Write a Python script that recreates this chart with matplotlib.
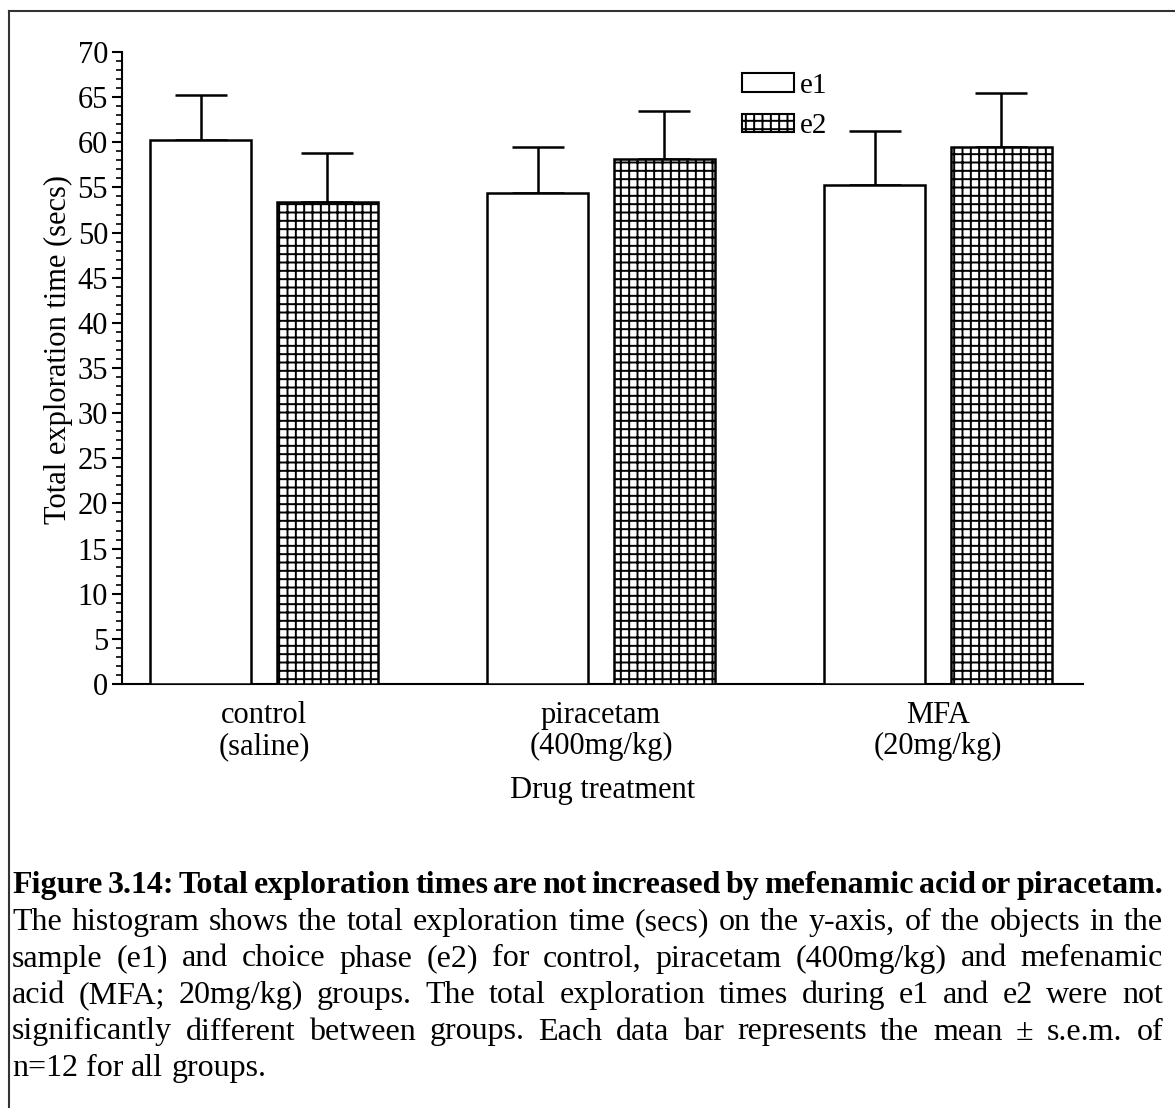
import matplotlib
matplotlib.use('Agg')
import matplotlib.pyplot as plt
from matplotlib.patches import Patch
from matplotlib.ticker import MultipleLocator
import numpy as np

# Data
groups = ['control\n(saline)', 'piracetam\n(400mg/kg)', 'MFA\n(20mg/kg)']
e1_mean = [60.3, 54.4, 55.3]
e1_sem = [4.9, 5.1, 6.0]
e2_mean = [53.4, 58.1, 59.5]
e2_sem = [5.4, 5.4, 6.0]

caption_title = ('Figure 3.14: Total exploration times are not increased by '
                 'mefenamic acid or piracetam.')
caption_lines = [
    'The histogram shows the total exploration time (secs) on the y-axis, of the objects in the',
    'sample (e1) and choice phase (e2) for control, piracetam (400mg/kg) and mefenamic',
    'acid (MFA; 20mg/kg) groups. The total exploration times during e1 and e2 were not',
    'significantly different between groups. Each data bar represents the mean \u00b1 s.e.m. of',
    'n=12 for all groups.',
]

plt.rcParams['font.family'] = 'Liberation Serif'
plt.rcParams['hatch.linewidth'] = 1.4

W, H = 1175, 1108
fig = plt.figure(figsize=(W / 100, H / 100), dpi=100)
ax = fig.add_axes([122 / W, 1 - 684 / H, (1083 - 122) / W, (684 - 52) / H])

x = np.arange(len(groups))
bw = 0.30
off = 0.188
lw = 1.8

ax.bar(x - off, e1_mean, bw, color='white', edgecolor='black', linewidth=lw, zorder=3)
ax.bar(x + off, e2_mean, bw, color='white', edgecolor='black', linewidth=lw,
       hatch='++', zorder=3)

for xs, m, s in [(x - off, e1_mean, e1_sem), (x + off, e2_mean, e2_sem)]:
    ax.errorbar(xs, m, yerr=[np.zeros(len(s)), s], fmt='none', ecolor='black',
                elinewidth=lw, capsize=18.5, capthick=lw, zorder=2)

ax.set_xlim(-0.421, 2.430)
ax.set_ylim(0, 70)
ax.yaxis.set_major_locator(MultipleLocator(5))
ax.yaxis.set_minor_locator(MultipleLocator(1))
ax.tick_params(axis='y', which='major', length=7, width=1.5, labelsize=22, pad=3)
ax.tick_params(axis='y', which='minor', length=4, width=1.2)
ax.set_xticks(x)
ax.set_xticklabels(groups, fontsize=22, linespacing=1.1)
ax.tick_params(axis='x', length=0, pad=12)

for side in ['top', 'right']:
    ax.spines[side].set_visible(False)
for side in ['left', 'bottom']:
    ax.spines[side].set_linewidth(1.5)

ax.set_ylabel('Total exploration time (secs)', fontsize=22)
ax.yaxis.set_label_coords(-0.051, 0.53)
ax.set_xlabel('Drug treatment', fontsize=22, labelpad=11)

handles = [Patch(facecolor='white', edgecolor='black', linewidth=1.5),
           Patch(facecolor='white', edgecolor='black', linewidth=1.5, hatch='++')]
ax.legend(handles, ['e1', 'e2'], loc='upper left', bbox_to_anchor=(0.645, 0.967),
          frameon=False, fontsize=21, handlelength=1.8, handleheight=0.58,
          handletextpad=0.2, labelspacing=0.5, borderpad=0, borderaxespad=0)

# border lines of the figure panel
fig.add_artist(plt.Line2D([9 / W, 9 / W], [0, 1 - 11 / H], color='#333333', lw=1.5))
fig.add_artist(plt.Line2D([9 / W, 1], [1 - 11 / H, 1 - 11 / H], color='#333333', lw=1.5))

# justified caption
renderer = fig.canvas.get_renderer()
x0, x1 = 12, 1163


def text_width(s, **kw):
    t = fig.text(0, 0, s, **kw)
    w = t.get_window_extent(renderer).width
    t.remove()
    return w


def put_line(text, ypix, justify=True, **kw):
    words = text.split(' ')
    objs = [fig.text(0, 1 - ypix / H, w, va='baseline', **kw) for w in words]
    widths = [o.get_window_extent(renderer).width for o in objs]
    if justify and len(words) > 1:
        gap = (x1 - x0 - sum(widths)) / (len(words) - 1)
    else:
        gap = text_width('a a', **kw) - 2 * text_width('a', **kw)
    pos = x0
    for o, w in zip(objs, widths):
        o.set_x(pos / W)
        pos += w + gap


cap_size = 23
put_line(caption_title, 893, fontsize=cap_size, fontweight='bold')
for i, line in enumerate(caption_lines):
    put_line(line, 930 + 36.5 * i, justify=(i < len(caption_lines) - 1), fontsize=cap_size)

fig.savefig('out.png', dpi=100)
